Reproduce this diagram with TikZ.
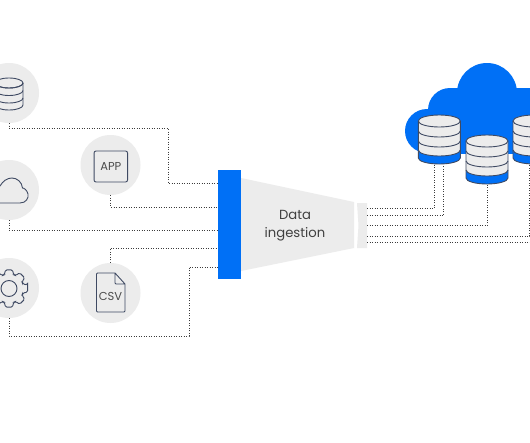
\documentclass[tikz,border=0pt]{standalone}
\usepackage{fontspec}
\setmainfont{Poppins}
\usetikzlibrary{positioning,calc}
\definecolor{brandblue}{HTML}{0070F6}
\definecolor{softgray}{HTML}{ECECEC}
\definecolor{inkblue}{HTML}{3F4A63}
\definecolor{dotgray}{HTML}{3C3C3C}
\newcommand{\stackedcyl}[3]{% centre x, top y, name
	\node[cylmark] (#3) at (#1,#2+21) {};
	\fill[brandblue] (#1-21,#2+29) -- (#1-21,#2+37) arc[start angle=180,end angle=360,x radius=21,y radius=-6] -- (#1+21,#2+29) -- cycle;
	\fill[softgray] (#1-21,#2) -- (#1-21,#2+29) arc[start angle=180,end angle=360,x radius=21,y radius=-6] -- (#1+21,#2) arc[start angle=0,end angle=180,x radius=21,y radius=-6] -- cycle;
	\draw[cylline] (#1,#2) ellipse[x radius=21,y radius=6];
	\foreach \dy in {10,20,29}
		\draw[cylline] (#1-21,#2+\dy) arc[start angle=180,end angle=360,x radius=21,y radius=-6];
	\draw[cylline] (#1-21,#2) -- (#1-21,#2+37) arc[start angle=180,end angle=360,x radius=21,y radius=-6] -- (#1+21,#2);
}
\begin{document}
\begin{tikzpicture}[
	x=1pt, y=-1pt,
	iconbg/.style={circle, fill=softgray, minimum size=60pt, inner sep=0pt},
	conn/.style={dotgray, line width=1pt, dash pattern=on 1pt off 1.5pt},
	iconline/.style={draw=inkblue, line width=0.9pt},
	cylline/.style={draw=inkblue, line width=0.9pt},
	cylmark/.style={minimum width=42pt, minimum height=44pt, inner sep=0pt},
	icontext/.style={text=black!70, font=\fontsize{11.5}{13}\selectfont},
	bluebar/.style={rectangle, fill=brandblue, minimum width=22.5pt, minimum height=109pt, inner sep=0pt}
	]
	\clip (0,0) rectangle (530,442);
	\fill[white] (0,0) rectangle (530,442);
	% sources
	\node[iconbg] (dbsrc) at (9,93) {};
	\node[iconbg] (cloudsrc) at (9,190) {};
	\node[iconbg] (gearsrc) at (9,288) {};
	\node[iconbg] (appsrc) at (110.5,165) {};
	\node[iconbg] (csvsrc) at (110.5,293) {};
	\node[bluebar] (bar) at (229.25,224.5) {};
	% funnel
	\fill[softgray] (241,178) -- (354,202) -- (354,248) -- (241,271) -- cycle;
	\fill[softgray] (357,203) -- (367,203) -- (367,248) -- (357,248) -- (358.5,225.5) -- cycle;
	\node[align=center, text=black!75, font=\fontsize{13.2}{18}\selectfont] (ingest) at (295,226) {Data\\ingestion};
	\coordinate (funnelout) at (367,225);
	% left connectors
	\draw[conn] (dbsrc.south) -- (9,128) -| (168,183) -- (bar.west |- 0,183);
	\draw[conn] (appsrc.south) |- (bar.west |- 0,207);
	\draw[conn] (cloudsrc.south) |- (bar.west |- 0,230);
	\draw[conn] (csvsrc.north) |- (bar.west |- 0,248);
	\draw[conn] (gearsrc.south) |- (189,336) |- (bar.west |- 0,267);
	% source icons
	\draw[iconline] (9,83) ellipse[x radius=14,y radius=5];
	\foreach \ty in {83,90.5,98}
		\draw[iconline] (-5,\ty) arc[start angle=180,end angle=360,x radius=14,y radius=-5];
	\draw[iconline] (-5,83) -- (-5,105) arc[start angle=180,end angle=360,x radius=14,y radius=-5] -- (23,83);
	\draw[iconline] (-5,203) -- (20,203) .. controls (26,203) and (29,198) .. (28,194) .. controls (27,190) and (24,188) .. (22.5,188) .. controls (22,182) and (17,178) .. (12,178) .. controls (7,178) and (3,181) .. (0,186) -- (-5,186);
	\node[iconline, draw, rounded corners=2pt, minimum width=33.5pt, minimum height=31pt, inner sep=0pt, icontext] (appicon) at (110.8,166.5) {APP};
	\draw[iconline, line join=round] (115,273) -- (97.5,273) -- (96.5,274) -- (96.5,311) -- (97.5,312) -- (124,312) -- (125,311) -- (125,284) -- (115,273) -- (115,283) -- (116,284) -- (125,284);
	\node[icontext] (csvicon) at (110.5,296) {CSV};
	\draw[iconline] (9,288.5) circle[radius=8];
	\begin{scope}[shift={(9,288.5)}]
		\draw[iconline, rounded corners=1.5pt] (-11:19) \foreach \a in {0,45,...,315} { -- (\a-11:19) -- (\a+11:19) -- (\a+18:14.5) -- (\a+27:14.5) } -- cycle;
	\end{scope}
	% cloud
	\fill[brandblue] (487,93) circle[radius=30];
	\fill[brandblue] (427,131) circle[radius=22];
	\fill[brandblue] (450,110) circle[radius=22];
	\fill[brandblue] (427,109) rectangle (530,154);
	\fill[brandblue] (450,88) rectangle (530,110);
	% storage
	\stackedcyl{439.3}{121}{dba}
	\stackedcyl{487}{141}{dbb}
	\stackedcyl{534}{121}{dbc}
	% right connectors
	\draw[conn] (funnelout |- 0,208.5) -| (434,165);
	\draw[conn] (funnelout |- 0,215.5) -| (443.5,165);
	\draw[conn] (funnelout |- 0,225.5) -| (dbb.south);
	\draw[conn] (funnelout |- 0,236) -| (529.7,165);
	\draw[conn] (funnelout |- 0,242) -- (530,242);
\end{tikzpicture}
\end{document}
